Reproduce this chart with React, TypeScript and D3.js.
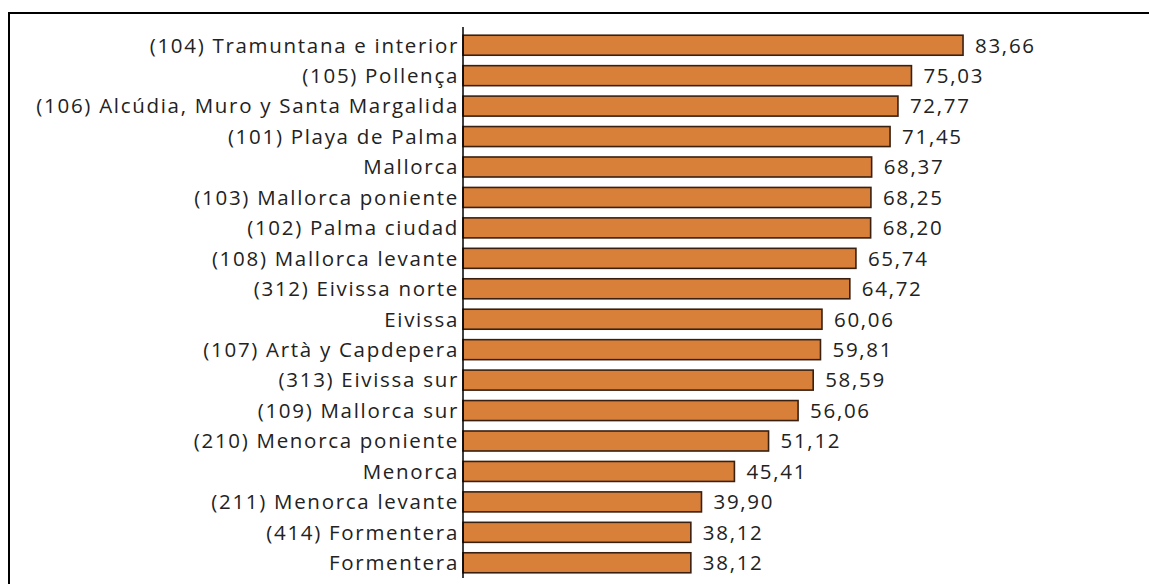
import React from 'react';
import * as d3 from 'd3';

const categories = [
  '(104) Tramuntana e interior',
  '(105) Pollença',
  '(106) Alcúdia, Muro y Santa Margalida',
  '(101) Playa de Palma',
  'Mallorca',
  '(103) Mallorca poniente',
  '(102) Palma ciudad',
  '(108) Mallorca levante',
  '(312) Eivissa norte',
  'Eivissa',
  '(107) Artà y Capdepera',
  '(313) Eivissa sur',
  '(109) Mallorca sur',
  '(210) Menorca poniente',
  'Menorca',
  '(211) Menorca levante',
  '(414) Formentera',
  'Formentera'
];
const values = [
  83.66, 75.03, 72.77, 71.45, 68.37, 68.25, 68.2, 65.74, 64.72,
  60.06, 59.81, 58.59, 56.06, 51.12, 45.41, 39.9, 38.12, 38.12
];

const W = 1149;
const H = 584;
const axisX = 463;
const top = 30;
const bottom = 578;

const App = () => {
  const x = d3.scaleLinear().domain([0, 100]).range([axisX, axisX + 597.7]);
  const y = d3.scaleBand<string>()
    .domain(categories)
    .range([top, bottom])
    .paddingInner(0.343)
    .paddingOuter(0.1715);
  const fmt = (v: number) => v.toFixed(2).replace('.', ',');
  const font = "'Open Sans', 'DejaVu Sans', sans-serif";

  return (
    <svg width={W} height={H} style={{ position: 'fixed', left: 0, top: 0, background: '#fff' }}>
      {/* frame, cropped on the right and bottom */}
      <rect x={9} y={13} width={W + 20} height={H + 20} fill="none" stroke="#000" strokeWidth={2} />
      <g fontFamily={font} fontSize={20.5} fill="#222">
        {categories.map((c, i) => {
          const yy = y(c)!;
          const bh = y.bandwidth();
          return (
            <g key={c}>
              <rect x={x(0)} y={yy} width={x(values[i]) - x(0)} height={bh}
                fill="#d8803a" stroke="#3a2010" strokeWidth={1.6} />
              <text x={axisX - 4} y={yy + bh / 2} dy="0.36em" textAnchor="end" letterSpacing={1.7}>{c}</text>
              <text x={x(values[i]) + 12} y={yy + bh / 2} dy="0.36em" letterSpacing={1.7}>{fmt(values[i])}</text>
            </g>
          );
        })}
      </g>
      <line x1={axisX} x2={axisX} y1={27} y2={bottom} stroke="#000" strokeWidth={1.5} />
    </svg>
  );
};

export default App;
